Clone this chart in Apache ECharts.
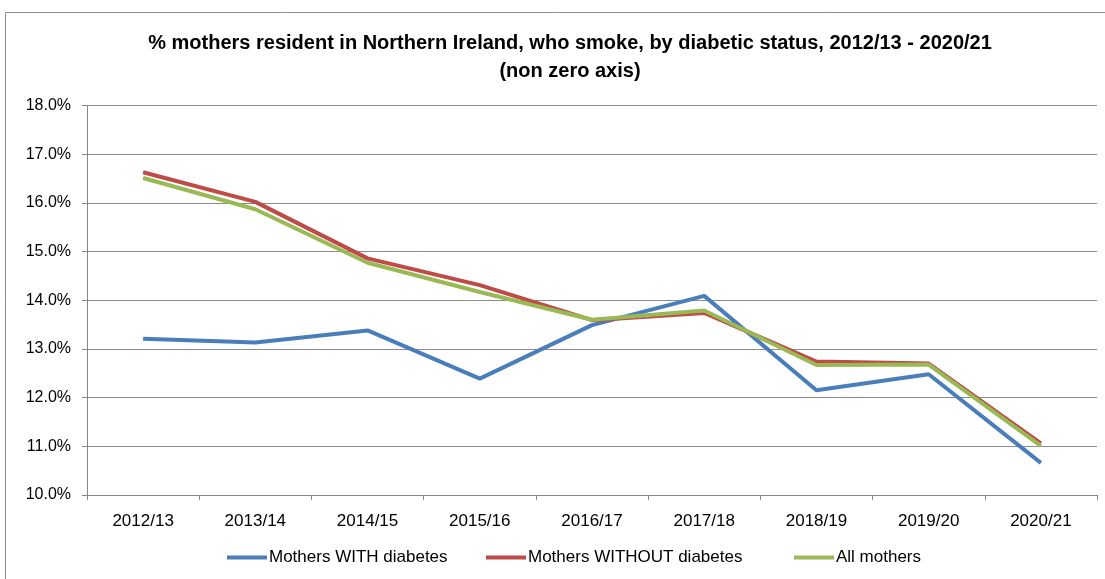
<!DOCTYPE html>
<html>
<head>
<meta charset="utf-8">
<script src="https://cdn.jsdelivr.net/npm/echarts@6/dist/echarts.min.js"></script>
<style>
html,body{margin:0;padding:0;background:#fff;}
#c{width:1105px;height:579px;}
</style>
</head>
<body>
<div id="c"></div>
<script>
var categories = ['2012/13','2013/14','2014/15','2015/16','2016/17','2017/18','2018/19','2019/20','2020/21'];
var withDiabetes = [13.21, 13.13, 13.38, 12.39, 13.49, 14.09, 12.15, 12.48, 10.66];
var withoutDiabetes = [16.63, 16.02, 14.86, 14.31, 13.59, 13.74, 12.74, 12.70, 11.06];
var allMothers = [16.51, 15.87, 14.77, 14.17, 13.60, 13.79, 12.67, 12.68, 11.01];
var seriesNames = ['Mothers WITH diabetes', 'Mothers WITHOUT diabetes', 'All mothers'];
var titleLines = ['% mothers resident in Northern Ireland, who smoke, by diabetic status, 2012/13 - 2020/21', '(non zero axis)'];

var font = 'Liberation Sans, Arial, sans-serif';
var chart = echarts.init(document.getElementById('c'));
var colors = ['#4a7ebb', '#be4b48', '#98b954'];
var data = [withDiabetes, withoutDiabetes, allMothers];
var legendLefts = [227, 486, 794];

chart.setOption({
  animation: false,
  color: colors,
  graphic: [{
    type: 'rect', left: 5, top: 12, z: -1,
    shape: {width: 1120, height: 600},
    style: {fill: '#fff', stroke: '#8c8c8c', lineWidth: 1}
  }],
  title: {
    text: titleLines.join('\n'),
    left: 565, textAlign: 'center', top: 24,
    textStyle: {fontFamily: font, fontWeight: 'bold', fontSize: 20, color: '#000', lineHeight: 28}
  },
  legend: seriesNames.map(function(n, i){
    return {
      left: legendLefts[i], top: 549,
      itemWidth: 40, itemHeight: 4, padding: 0,
      icon: 'rect',
      textStyle: {fontFamily: font, fontSize: 17, color: '#000', padding: [0,0,0,-3]},
      data: [n]
    };
  }),
  grid: {left: 87, right: 8, top: 105.5, bottom: 84, containLabel: false},
  xAxis: {
    type: 'category', data: categories, boundaryGap: true,
    axisLine: {lineStyle: {color: '#868686', width: 1}},
    axisTick: {show: true, length: 5, lineStyle: {color: '#868686'}},
    axisLabel: {fontFamily: font, fontSize: 17, color: '#000', margin: 18}
  },
  yAxis: {
    type: 'value', min: 10, max: 18, interval: 1,
    axisLine: {show: true, lineStyle: {color: '#868686', width: 1}},
    axisTick: {show: true, length: 5, lineStyle: {color: '#868686'}},
    splitLine: {lineStyle: {color: '#8c8c8c', width: 1}},
    axisLabel: {fontFamily: font, fontSize: 16, color: '#000', margin: 16,
      formatter: function(v){ return v.toFixed(1) + '%'; }}
  },
  series: seriesNames.map(function(n, i){
    return {
      name: n, type: 'line', data: data[i],
      symbol: 'none', smooth: false,
      lineStyle: {width: 4, color: colors[i]},
      itemStyle: {color: colors[i]}
    };
  })
});
</script>
</body>
</html>
